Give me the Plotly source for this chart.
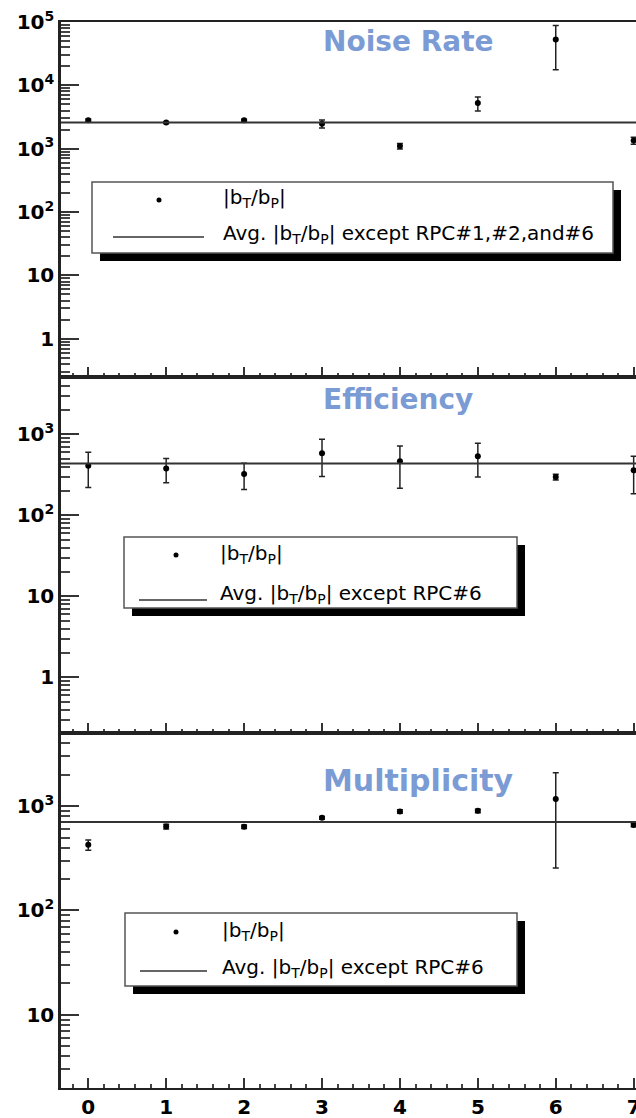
import numpy as np
import plotly.graph_objects as go
from plotly.subplots import make_subplots

# RPC index on the x axis
rpc = [0, 1, 2, 3, 4, 5, 6, 7]

# |b_T / b_P| per RPC for the three quantities, with symmetric errors
noise = [2800, 2580, 2800, 2480, 1100, 5250, 52700, 1350]
noise_err = [150, 90, 110, 350, 110, 1300, 35000, 170]
eff = [411, 378, 325, 585, 466, 537, 298, 360]
eff_err = [190, 125, 116, 283, 250, 240, 25, 175]
mult = [427, 638, 635, 773, 889, 902, 1175, 662]
mult_err = [48, 35, 25, 25, 35, 35, 920, 25]

# RPCs left out of each average
noise_skip = [1, 2, 6]
eff_skip = [6]
mult_skip = [6]

panel_titles = ["Noise Rate", "Efficiency", "Multiplicity"]
legend_avg_text = [
    "Avg. |b<sub>T</sub>/b<sub>P</sub>| except RPC#1,#2,and#6",
    "Avg. |b<sub>T</sub>/b<sub>P</sub>| except RPC#6",
    "Avg. |b<sub>T</sub>/b<sub>P</sub>| except RPC#6",
]
point_label = "|b<sub>T</sub>/b<sub>P</sub>|"


def avg_except(vals, skip):
    return float(np.mean([v for i, v in zip(rpc, vals) if i not in skip]))


series = [
    (noise, noise_err, avg_except(noise, noise_skip)),
    (eff, eff_err, avg_except(eff, eff_skip)),
    (mult, mult_err, avg_except(mult, mult_skip)),
]

# canvas geometry (pixels)
W, H = 636, 1118
ML, MT, MB = 61, 22, 30
PW = W - ML
PH = H - MT - MB


def px(x):
    return (x - ML) / PW


def py(y):
    return (H - MB - y) / PH


fig = make_subplots(rows=3, cols=1, shared_xaxes=True, vertical_spacing=0)

for r, (vals, errs, avg) in enumerate(series, start=1):
    fig.add_trace(
        go.Scatter(
            x=rpc, y=vals, mode="markers",
            marker=dict(color="black", size=6, symbol="circle"),
            error_y=dict(type="data", array=errs, visible=True,
                         color="#222222", thickness=1.5, width=3),
            showlegend=False,
        ),
        row=r, col=1,
    )
    sfx = "" if r == 1 else str(r)
    fig.add_shape(
        type="line", xref=f"x{sfx} domain", yref=f"y{sfx}",
        x0=0, x1=1, y0=avg, y1=avg,
        line=dict(color="#333333", width=2),
    )

# y axis ranges (log10) and major ticks
y_ranges = [[-0.61, 5.0], [-0.682, 3.704], [0.298, 3.705]]
major_vals = [
    [1, 10, 100, 1000, 10000, 100000],
    [1, 10, 100, 1000],
    [10, 100, 1000],
]
major_text = {
    1: "1", 10: "10", 100: "10<sup>2</sup>", 1000: "10<sup>3</sup>",
    10000: "10<sup>4</sup>", 100000: "10<sup>5</sup>",
}
bold_font = dict(family="DejaVu Sans", size=20, color="black", weight="bold")

for r in range(1, 4):
    lo, hi = y_ranges[r - 1]
    minors = []
    for d in range(int(np.floor(lo)) - 1, int(np.ceil(hi)) + 1):
        for m in range(2, 10):
            v = m * 10 ** d
            if 10 ** lo <= v <= 10 ** hi:
                minors.append(v)
    fig.update_yaxes(
        type="log", range=[lo, hi], automargin=False,
        tickmode="array", tickvals=major_vals[r - 1],
        ticktext=[major_text[v] for v in major_vals[r - 1]],
        ticks="inside", ticklen=18, tickwidth=2, tickcolor="#333333",
        minor=dict(tickvals=minors, ticks="inside", ticklen=9,
                   tickwidth=1.5, tickcolor="#444444", showgrid=False),
        showline=True, linewidth=2.5, linecolor="#222222",
        showgrid=False, zeroline=False, mirror=False,
        tickfont=bold_font,
        row=r, col=1,
    )
    fig.update_xaxes(
        range=[-0.35, 7.03], automargin=False,
        tickmode="linear", tick0=0, dtick=1,
        ticks="inside", ticklen=10, tickwidth=2, tickcolor="#333333",
        minor=dict(tick0=0, dtick=0.2, ticks="inside", ticklen=4,
                   tickwidth=1.5, tickcolor="#444444", showgrid=False),
        showline=True, linewidth=2, linecolor="#222222",
        mirror=True, showgrid=False, zeroline=False,
        showticklabels=(r == 3), ticklabeloverflow="allow",
        tickfont=bold_font,
        row=r, col=1,
    )

shapes = []
annotations = []

# panel titles
title_y = [42, 399, 780]
title_size = [28, 28, 30]
for t, y, s in zip(panel_titles, title_y, title_size):
    annotations.append(dict(
        text=t, xref="paper", yref="paper", x=px(321), y=py(y),
        xanchor="left", yanchor="middle", showarrow=False,
        font=dict(family="DejaVu Sans", size=s, color="#7b9bd5", weight="bold"),
    ))

# legend boxes: (left, top, right, bottom, dot(x,y), line(x0,x1,y), text x, row1 y, row2 y)
legends = [
    (92, 182, 613, 253, (159, 200), (113, 204, 237), 221, 198, 234),
    (124, 537, 517, 608, (176, 555), (139, 207, 600), 218, 554, 594),
    (125, 913, 517, 986, (176, 932), (140, 207, 971), 220, 931, 968),
]
for i, (l, t, rr, b, dot, ln, tx, r1, r2) in enumerate(legends):
    shapes.append(dict(type="rect", xref="paper", yref="paper",
                       x0=px(l + 8), x1=px(rr + 8), y0=py(b + 8), y1=py(t + 8),
                       fillcolor="black", line=dict(width=0), layer="above"))
    shapes.append(dict(type="rect", xref="paper", yref="paper",
                       x0=px(l), x1=px(rr), y0=py(b), y1=py(t),
                       fillcolor="white", line=dict(color="#555555", width=1.5),
                       layer="above"))
    shapes.append(dict(type="circle", xref="paper", yref="paper",
                       x0=px(dot[0] - 2.5), x1=px(dot[0] + 2.5),
                       y0=py(dot[1] + 2.5), y1=py(dot[1] - 2.5),
                       fillcolor="black", line=dict(width=0), layer="above"))
    shapes.append(dict(type="line", xref="paper", yref="paper",
                       x0=px(ln[0]), x1=px(ln[1]), y0=py(ln[2]), y1=py(ln[2]),
                       line=dict(color="#333333", width=1.5), layer="above"))
    annotations.append(dict(
        text=point_label, xref="paper", yref="paper", x=px(tx), y=py(r1),
        xanchor="left", yanchor="middle", showarrow=False,
        font=dict(family="DejaVu Sans", size=20, color="black"),
    ))
    annotations.append(dict(
        text=legend_avg_text[i], xref="paper", yref="paper", x=px(tx), y=py(r2),
        xanchor="left", yanchor="middle", showarrow=False,
        font=dict(family="DejaVu Sans", size=20, color="black"),
    ))

fig.update_layout(
    width=W, height=H,
    margin=dict(l=ML, r=0, t=MT, b=MB, pad=0, autoexpand=False),
    paper_bgcolor="white", plot_bgcolor="white",
    showlegend=False,
    shapes=list(fig.layout.shapes) + shapes,
    annotations=annotations,
    font=dict(family="DejaVu Sans", size=20, color="black"),
)

fig.write_html("out.html")
